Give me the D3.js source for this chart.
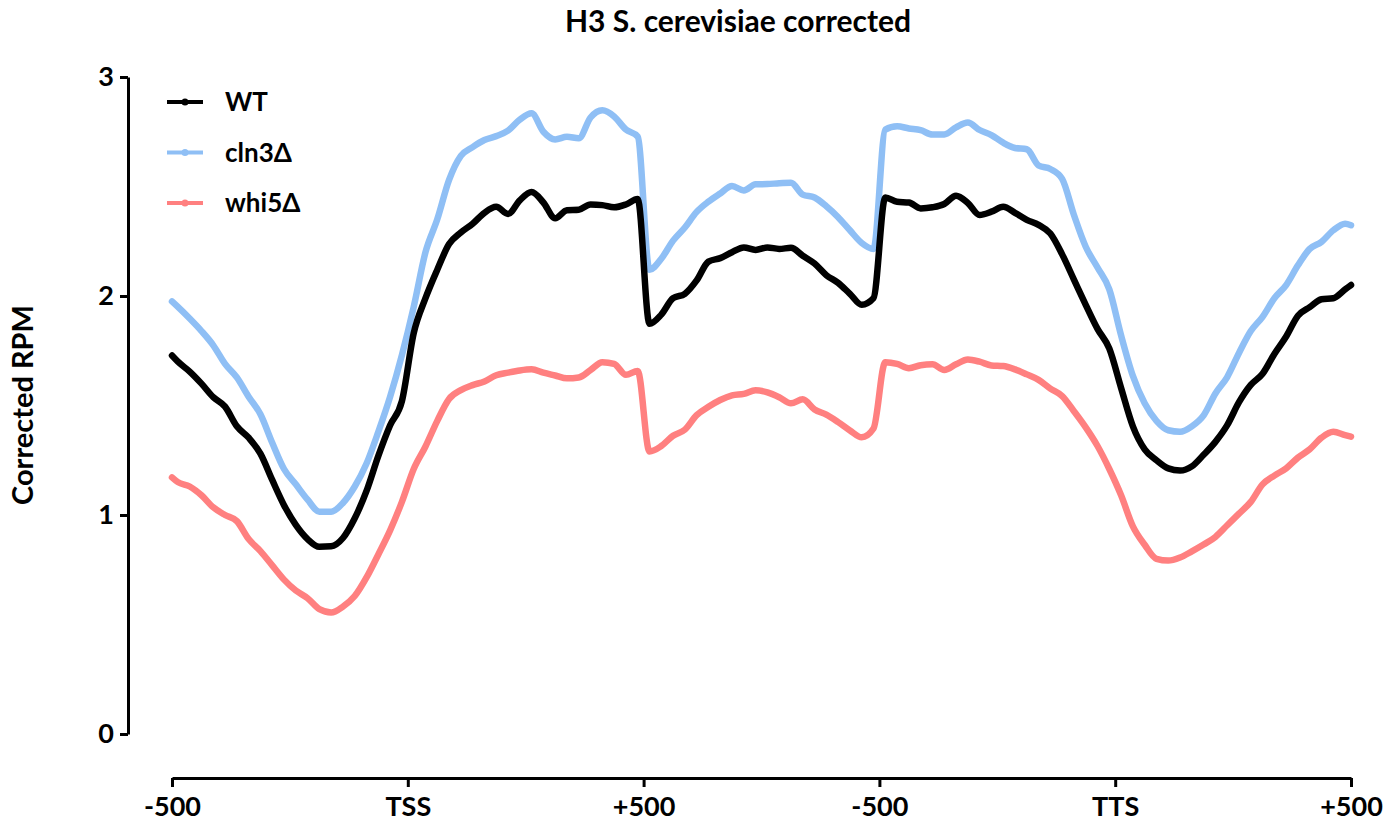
<!DOCTYPE html>
<html>
<head>
<meta charset="utf-8">
<script src="https://cdn.jsdelivr.net/npm/d3@7"></script>
<style>
  body { margin: 0; background: #fff; }
  svg { display: block; font-family: Lato, "Open Sans", sans-serif; font-weight: 700; }
</style>
</head>
<body>
<svg width="1393" height="824"></svg>
<script>
// x grid: segment units (0..5), one value per bin, plus both ends
var bins = [0].concat(d3.range(100).map(function (i) { return (i + 0.5) / 20; }), [5]);

var xTicks = [0, 1, 2, 3, 4, 5];
var xTickLabels = ['-500', 'TSS', '+500', '-500', 'TTS', '+500'];
var yTicks = [0, 1, 2, 3];

var wt = [1.728,
  1.70, 1.655, 1.60, 1.538, 1.495, 1.405, 1.353, 1.28, 1.16, 1.045, 0.955, 0.89, 0.855, 0.857, 0.895, 0.985, 1.11, 1.27, 1.41, 1.52,
  1.83, 1.99, 2.12, 2.237, 2.29, 2.33, 2.38, 2.407, 2.375, 2.437, 2.475, 2.427, 2.355, 2.392, 2.394, 2.418, 2.415, 2.405, 2.418, 2.443,
  1.873, 1.915, 1.99, 2.01, 2.071, 2.157, 2.173, 2.20, 2.222, 2.21, 2.222, 2.215, 2.22, 2.184, 2.148, 2.095, 2.06, 2.01, 1.96, 1.99,
  2.45, 2.43, 2.427, 2.40, 2.405, 2.42, 2.458, 2.425, 2.37, 2.385, 2.407, 2.38, 2.348, 2.325, 2.285, 2.19, 2.075, 1.96, 1.85, 1.76,
  1.58, 1.405, 1.30, 1.25, 1.213, 1.203, 1.222, 1.275, 1.334, 1.41, 1.515, 1.594, 1.645, 1.735, 1.815, 1.91, 1.949, 1.985, 1.99, 2.03,
  2.05];

var cln3 = [1.975,
  1.95, 1.897, 1.84, 1.775, 1.69, 1.628, 1.54, 1.46, 1.33, 1.21, 1.14, 1.07, 1.015, 1.015, 1.055, 1.13, 1.235, 1.38, 1.54, 1.73,
  1.95, 2.20, 2.35, 2.53, 2.64, 2.68, 2.712, 2.73, 2.755, 2.805, 2.834, 2.75, 2.715, 2.727, 2.72, 2.815, 2.848, 2.82, 2.76, 2.728,
  2.12, 2.17, 2.253, 2.313, 2.384, 2.431, 2.468, 2.502, 2.482, 2.51, 2.511, 2.515, 2.517, 2.463, 2.45, 2.41, 2.36, 2.30, 2.242, 2.215,
  2.76, 2.775, 2.765, 2.757, 2.737, 2.738, 2.77, 2.792, 2.758, 2.735, 2.70, 2.676, 2.67, 2.596, 2.58, 2.535, 2.37, 2.225, 2.13, 2.03,
  1.82, 1.635, 1.51, 1.43, 1.387, 1.38, 1.405, 1.455, 1.555, 1.63, 1.74, 1.84, 1.905, 1.99, 2.05, 2.14, 2.215, 2.247, 2.30, 2.33,
  2.323];

var whi5 = [1.172,
  1.15, 1.13, 1.09, 1.035, 1.0, 0.972, 0.89, 0.835, 0.77, 0.705, 0.655, 0.62, 0.57, 0.555, 0.582, 0.63, 0.715, 0.82, 0.93, 1.06,
  1.21, 1.313, 1.43, 1.53, 1.57, 1.593, 1.61, 1.638, 1.65, 1.66, 1.665, 1.65, 1.637, 1.624, 1.628, 1.662, 1.698, 1.69, 1.64, 1.658,
  1.29, 1.315, 1.362, 1.39, 1.456, 1.494, 1.525, 1.546, 1.553, 1.57, 1.56, 1.538, 1.51, 1.528, 1.482, 1.458, 1.424, 1.386, 1.355, 1.395,
  1.698, 1.69, 1.67, 1.684, 1.688, 1.662, 1.688, 1.71, 1.70, 1.683, 1.68, 1.665, 1.642, 1.617, 1.577, 1.543, 1.474, 1.40, 1.315, 1.21,
  1.09, 0.948, 0.864, 0.80, 0.792, 0.806, 0.834, 0.865, 0.90, 0.953, 1.006, 1.06, 1.14, 1.18, 1.213, 1.262, 1.30, 1.353, 1.38, 1.365,
  1.358];

var seriesNames = ['WT', 'cln3\u0394', 'whi5\u0394'];
var seriesColors = ['#000000', '#8fbff5', '#ff8080'];
var seriesValues = [wt, cln3, whi5];

var svg = d3.select('svg');

var x = d3.scaleLinear().domain([0, 5]).range([172, 1351]);
var y = d3.scaleLinear().domain([0, 3]).range([734, 77]);

// title
svg.append('text')
    .attr('x', 738)
    .attr('y', 32)
    .attr('text-anchor', 'middle')
    .style('font-size', '30px')
    .text('H3 S. cerevisiae corrected');

// y axis
var yAxis = svg.append('g')
    .attr('transform', 'translate(128,0)')
    .call(d3.axisLeft(y).tickValues(yTicks).tickFormat(d3.format('d')).tickSize(8).tickSizeOuter(0).tickPadding(6));

// x axis
var xAxis = svg.append('g')
    .attr('transform', 'translate(0,778)')
    .call(d3.axisBottom(x).tickValues(xTicks).tickFormat(function (d, i) { return xTickLabels[i]; })
        .tickSize(9).tickSizeOuter(0).tickPadding(10));

[yAxis, xAxis].forEach(function (g) {
    g.select('.domain').style('stroke', '#000').style('stroke-width', 3);
    g.selectAll('.tick line').style('stroke', '#000').style('stroke-width', 3);
    g.selectAll('.tick text')
        .style('font-family', 'Lato, "Open Sans", sans-serif')
        .style('font-weight', 700)
        .style('font-size', '27px')
        .style('fill', '#000');
});

// y axis label
svg.append('text')
    .attr('transform', 'translate(33,405) rotate(-90)')
    .attr('text-anchor', 'middle')
    .style('font-size', '29px')
    .text('Corrected RPM');

// lines
var line = d3.line()
    .x(function (d, i) { return x(bins[i]); })
    .y(function (d) { return y(d); })
    .curve(d3.curveMonotoneX);

[2, 1, 0].forEach(function (s) {
    svg.append('path')
        .datum(seriesValues[s])
        .attr('d', line)
        .attr('class', 'series ' + s)
        .style('fill', 'none')
        .style('stroke', seriesColors[s])
        .style('stroke-width', 6.5)
        .style('stroke-linejoin', 'round')
        .style('stroke-linecap', 'round');
});

// legend
var legend = svg.append('g').attr('class', 'legend');
seriesNames.forEach(function (name, i) {
    var ly = 102 + i * 50.5;
    legend.append('line')
        .attr('x1', 167)
        .attr('x2', 203)
        .attr('y1', ly)
        .attr('y2', ly)
        .style('stroke', seriesColors[i])
        .style('stroke-width', 4);
    legend.append('circle')
        .attr('cx', 185)
        .attr('cy', ly)
        .attr('r', 3.5)
        .style('fill', seriesColors[i]);
    legend.append('text')
        .attr('x', 225)
        .attr('y', ly)
        .attr('dy', '0.35em')
        .style('font-size', '26px')
        .text(name);
});
</script>
</body>
</html>
